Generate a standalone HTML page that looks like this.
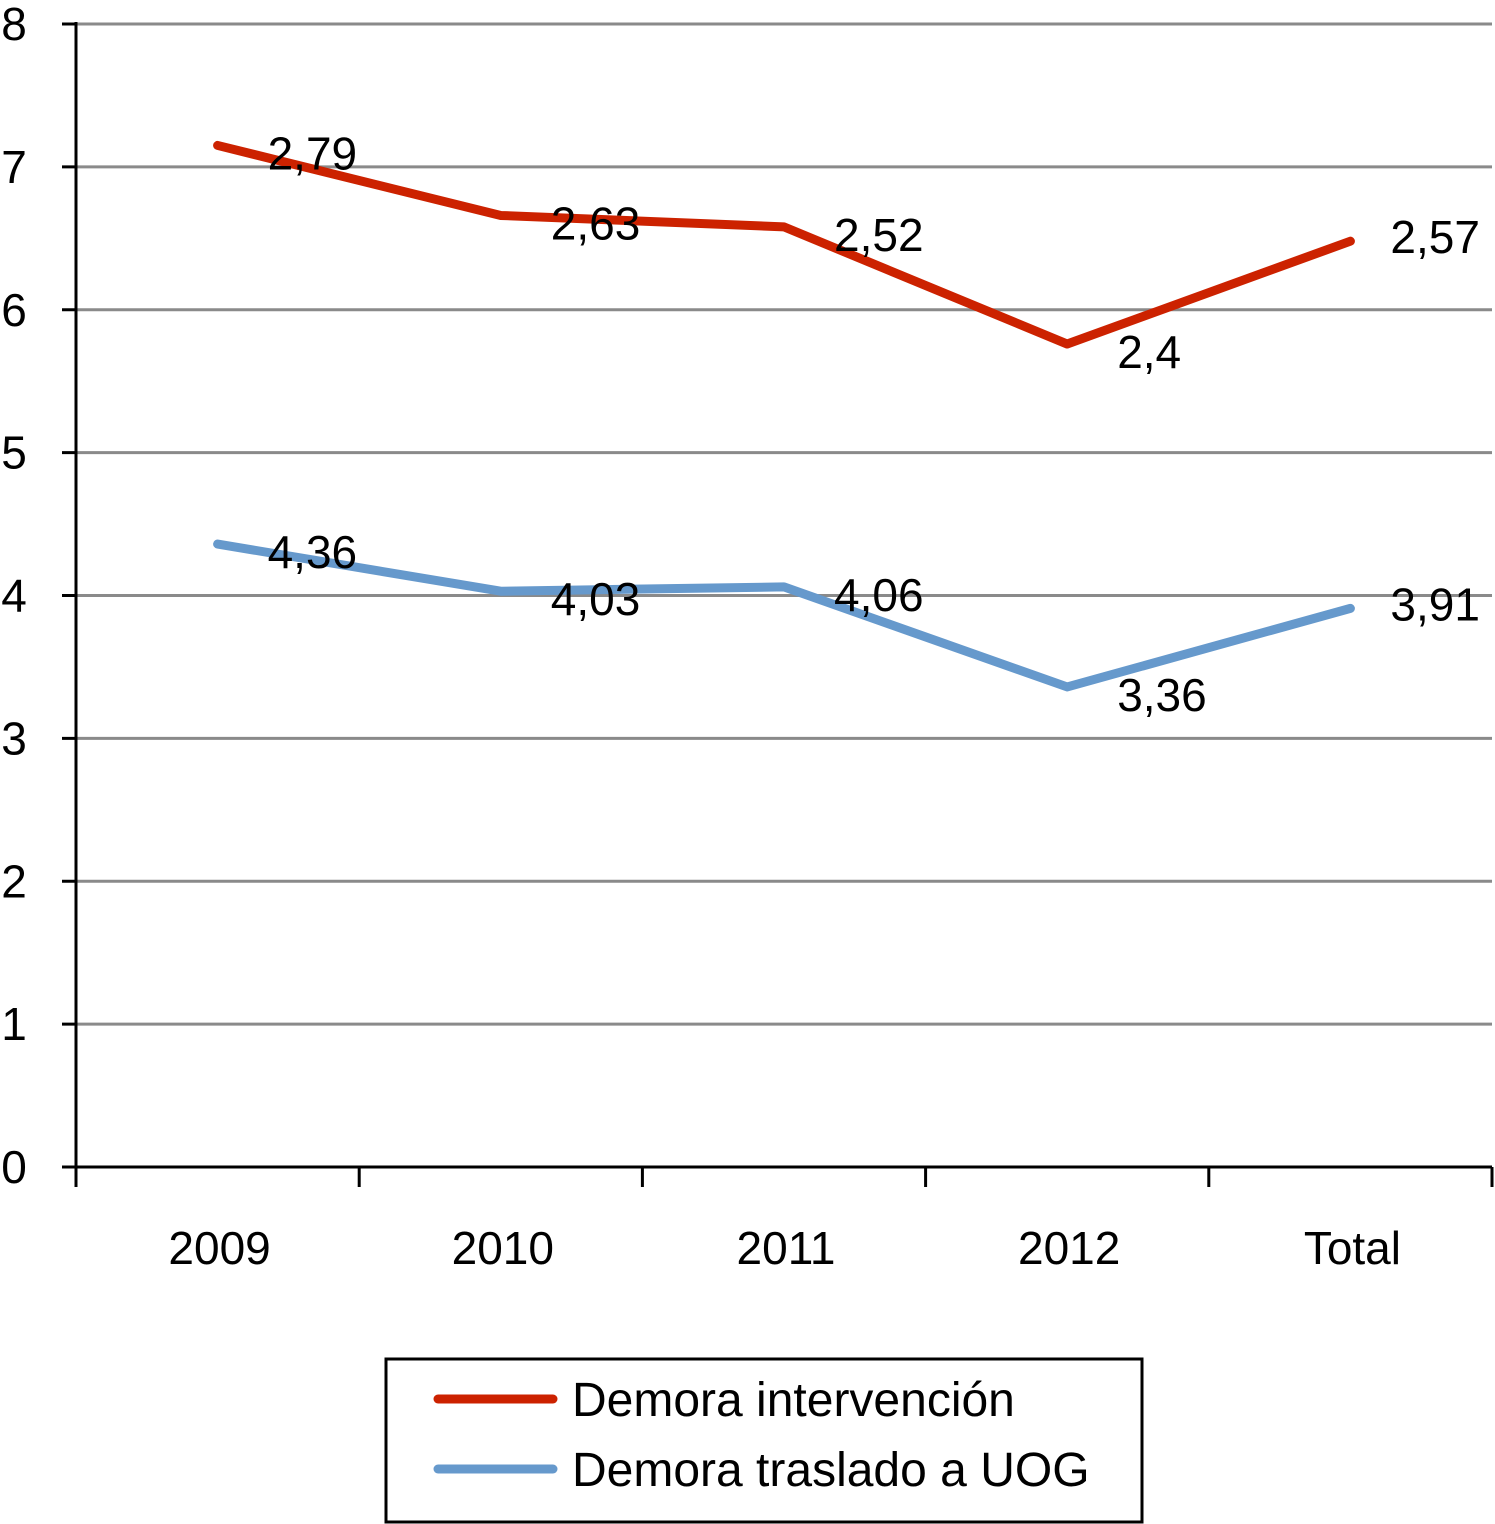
<!DOCTYPE html>
<html><head><meta charset="utf-8"><style>
body{margin:0;background:#fff}
svg{display:block}
text{font-family:"Liberation Sans",Arial,sans-serif;fill:#000}
</style></head><body>
<svg id="chart" width="1495" height="1524" viewBox="0 0 1495 1524" xmlns="http://www.w3.org/2000/svg">
<g id="grid"></g><g id="axes"></g><g id="series"></g><g id="labels"></g>
<g>
<rect x="386" y="1359" width="756" height="163" fill="#fff" stroke="#000" stroke-width="3"/>
<line x1="438" y1="1399" x2="553" y2="1399" stroke="#cc2200" stroke-width="9" stroke-linecap="round"/>
<text x="572" y="1416" font-size="48">Demora intervención</text>
<line x1="438" y1="1469" x2="553" y2="1469" stroke="#6699cc" stroke-width="9" stroke-linecap="round"/>
<text x="572" y="1486" font-size="48">Demora traslado a UOG</text>
</g>
</svg>
<script>
const categories=["2009","2010","2011","2012","Total"];
const traslado=[4.36,4.03,4.06,3.36,3.91];
const intervencion=[2.79,2.63,2.52,2.4,2.57];
const yTicks=[0,1,2,3,4,5,6,7,8];
const NS="http://www.w3.org/2000/svg";
const x0=76,x1=1492,y0=1167,yTop=24,ymax=8;
const band=(x1-x0)/categories.length;
const xs=i=>x0+band*(i+0.5);
const ys=v=>y0-(v/ymax)*(y0-yTop);
function mk(tag,attrs,parent,txt){const e=document.createElementNS(NS,tag);for(const k in attrs)e.setAttribute(k,attrs[k]);if(txt!==undefined)e.textContent=txt;document.getElementById(parent).appendChild(e);return e;}
yTicks.forEach(t=>{
 if(t>0){const g=mk('line',{x1:x0,x2:x1,y1:ys(t),y2:ys(t),stroke:'#8a8a8a','stroke-width':3},'grid');
 
 }
 const tk=mk('line',{x1:62,x2:x0,y1:ys(t),y2:ys(t),stroke:'#000','stroke-width':3},'axes');
 
 
 const l=mk('text',{x:14,y:ys(t)+16,'font-size':46,'text-anchor':'middle'},'axes',String(t));
 
 
});
const ya=mk('line',{x1:x0,x2:x0,y1:yTop-2,y2:y0+18,stroke:'#000','stroke-width':3},'axes');


const xa=mk('line',{x1:x0,x2:x1,y1:y0,y2:y0,stroke:'#000','stroke-width':3},'axes');


for(let i=0;i<=categories.length;i++){
 const t=mk('line',{x1:x0+band*i,x2:x0+band*i,y1:y0,y2:y0+20,stroke:'#000','stroke-width':3},'axes');
 
 
}
categories.forEach((c,i)=>{
 const t=mk('text',{x:xs(i)+2,y:1264,'font-size':46,'text-anchor':'middle'},'axes',c);
 
 
});
const stacked=traslado.map((v,i)=>v+intervencion[i]);
function line(vals,color,name){
 const p=mk('polyline',{points:vals.map((v,i)=>xs(i)+','+ys(v)).join(' '),fill:'none',stroke:color,'stroke-width':9,'stroke-linejoin':'round','stroke-linecap':'round'},'series');
 
 
}
line(traslado,'#6699cc','series-traslado-line');
line(stacked,'#cc2200','series-intervencion-line');
function labels(vals,printed){
 vals.forEach((v,i)=>{
  const t=mk('text',{x:xs(i)+(i===4?40:50),y:ys(v)+(i===4?12:24),'font-size':46},'labels',String(printed[i]).replace('.',','));
  
  
 });
}
labels(traslado,traslado);
labels(stacked,intervencion);
</script>
</body></html>
